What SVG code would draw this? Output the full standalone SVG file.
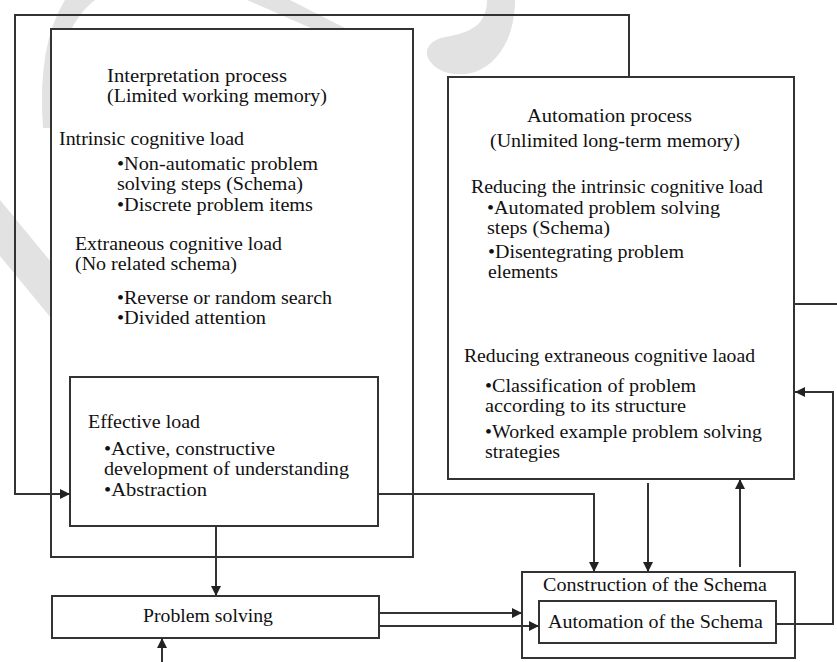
<svg xmlns="http://www.w3.org/2000/svg" width="837" height="662" viewBox="0 0 837 662">
<style>
.box{fill:#fff;stroke:#333;stroke-width:2}
.ln{fill:none;stroke:#333;stroke-width:2}
.wm{fill:#e2e2e2;stroke:none}
text{font-family:"Liberation Serif","Times New Roman",serif;font-size:19px;fill:#111}
</style>
<defs>
<marker id="ah" viewBox="0 0 10 10" refX="10" refY="5" markerWidth="10" markerHeight="10" markerUnits="userSpaceOnUse" orient="auto">
<path d="M0,0 L10,5 L0,10 Z" fill="#222"/>
</marker>
</defs>
<rect width="837" height="662" fill="#fff"/>
<g id="watermark">
<path class="wm" d="M65 0 L95 0 Q55 30 50 128 L43 128 Q37 45 65 0 Z"/>
<path class="wm" d="M0 200 L51 262 L51 318 L0 256 Z"/>
<path class="wm" d="M247 0 L290 0 L347 29 L313 29 Z"/>
<path class="wm" d="M487 0 C487 25 470 33 445 37 C430 40 424 50 428 58 C435 72 455 78 475 72 C500 63 515 35 515 0 Z"/>
</g>
<g id="interpretation">
<rect class="box" x="51" y="29" width="362" height="528"/>
<text x="107" y="82" textLength="180" lengthAdjust="spacingAndGlyphs">Interpretation process</text>
<text x="107" y="102" textLength="220" lengthAdjust="spacingAndGlyphs">(Limited working memory)</text>
<text x="59" y="145" textLength="185" lengthAdjust="spacingAndGlyphs">Intrinsic cognitive load</text>
<text x="117" y="170" textLength="201" lengthAdjust="spacingAndGlyphs">•Non-automatic problem</text>
<text x="117" y="190" textLength="186" lengthAdjust="spacingAndGlyphs">solving steps (Schema)</text>
<text x="117" y="211" textLength="196" lengthAdjust="spacingAndGlyphs">•Discrete problem items</text>
<text x="75" y="250" textLength="207" lengthAdjust="spacingAndGlyphs">Extraneous cognitive load</text>
<text x="75" y="270" textLength="162" lengthAdjust="spacingAndGlyphs">(No related schema)</text>
<text x="117" y="304" textLength="215" lengthAdjust="spacingAndGlyphs">•Reverse or random search</text>
<text x="117" y="324" textLength="149" lengthAdjust="spacingAndGlyphs">•Divided attention</text>
</g>
<g id="effective-load">
<rect class="box" x="70" y="377" width="308" height="149"/>
<text x="88" y="428" textLength="112" lengthAdjust="spacingAndGlyphs">Effective load</text>
<text x="104" y="455" textLength="171" lengthAdjust="spacingAndGlyphs">•Active, constructive</text>
<text x="104" y="475" textLength="245" lengthAdjust="spacingAndGlyphs">development of understanding</text>
<text x="104" y="496" textLength="103" lengthAdjust="spacingAndGlyphs">•Abstraction</text>
</g>
<g id="problem-solving">
<rect class="box" x="52" y="596" width="327" height="42"/>
<text x="143" y="622" textLength="130" lengthAdjust="spacingAndGlyphs">Problem solving</text>
</g>
<g id="automation">
<rect class="box" x="448" y="77" width="346" height="402"/>
<text x="527" y="122" textLength="165" lengthAdjust="spacingAndGlyphs">Automation process</text>
<text x="490" y="147" textLength="250" lengthAdjust="spacingAndGlyphs">(Unlimited long-term memory)</text>
<text x="471" y="193" textLength="292" lengthAdjust="spacingAndGlyphs">Reducing the intrinsic cognitive load</text>
<text x="487" y="214" textLength="233" lengthAdjust="spacingAndGlyphs">•Automated problem solving</text>
<text x="487" y="234" textLength="123" lengthAdjust="spacingAndGlyphs">steps (Schema)</text>
<text x="488" y="258" textLength="196" lengthAdjust="spacingAndGlyphs">•Disentegrating problem</text>
<text x="488" y="278" textLength="70" lengthAdjust="spacingAndGlyphs">elements</text>
<text x="464" y="362" textLength="291" lengthAdjust="spacingAndGlyphs">Reducing extraneous cognitive laoad</text>
<text x="485" y="392" textLength="211" lengthAdjust="spacingAndGlyphs">•Classification of problem</text>
<text x="485" y="412" textLength="201" lengthAdjust="spacingAndGlyphs">according to its structure</text>
<text x="485" y="438" textLength="277" lengthAdjust="spacingAndGlyphs">•Worked example problem solving</text>
<text x="485" y="458" textLength="75" lengthAdjust="spacingAndGlyphs">strategies</text>
</g>
<g id="construction">
<rect class="box" x="522" y="572" width="273" height="86"/>
<text x="543" y="591" textLength="224" lengthAdjust="spacingAndGlyphs">Construction of the Schema</text>
</g>
<g id="automation-schema">
<rect class="box" x="539" y="601" width="237" height="42"/>
<text x="548" y="628" textLength="215" lengthAdjust="spacingAndGlyphs">Automation of the Schema</text>
</g>
<g id="connectors">
<path class="ln" d="M629 77 L629 15 L15 15 L15 494 L70 494" marker-end="url(#ah)"/>
<path class="ln" d="M216 526 L216 596" marker-end="url(#ah)"/>
<path class="ln" d="M162 662 L162 638" marker-end="url(#ah)"/>
<path class="ln" d="M378 494 L594 494 L594 572" marker-end="url(#ah)"/>
<path class="ln" d="M648 483 L648 572" marker-end="url(#ah)"/>
<path class="ln" d="M740 567 L740 479" marker-end="url(#ah)"/>
<path class="ln" d="M776 624 L833 624 L833 392 L795 392" marker-end="url(#ah)"/>
<path class="ln" d="M379 613 L522 613" marker-end="url(#ah)"/>
<path class="ln" d="M379 626 L539 626" marker-end="url(#ah)"/>
<path class="ln" d="M794 304 L837 304"/>
</g>
</svg>
